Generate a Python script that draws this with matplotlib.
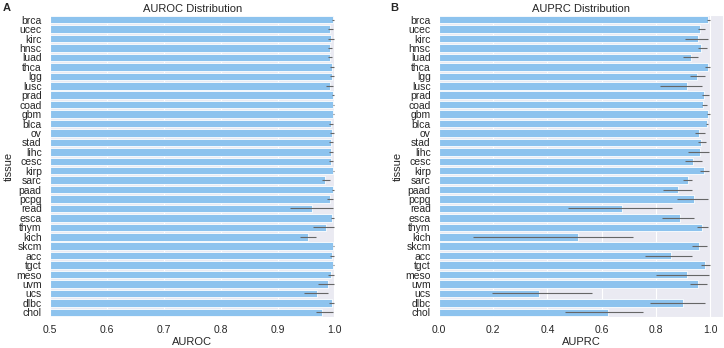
import numpy as np
import matplotlib.pyplot as plt
import seaborn as sns

sns.set_style("darkgrid")
plt.rcParams['font.family'] = ['Liberation Sans', 'DejaVu Sans']

tissues = ["brca", "ucec", "kirc", "hnsc", "luad", "thca", "lgg", "lusc", "prad", "coad",
           "gbm", "blca", "ov", "stad", "lihc", "cesc", "kirp", "sarc", "paad", "pcpg",
           "read", "esca", "thym", "kich", "skcm", "acc", "tgct", "meso", "uvm", "ucs",
           "dlbc", "chol"]

# AUROC mean and error-bar ends
auroc = [0.998, 0.992, 0.994, 0.992, 0.992, 0.995, 0.996, 0.992, 0.997, 0.998,
         0.998, 0.994, 0.995, 0.994, 0.994, 0.994, 0.998, 0.984, 0.997, 0.992,
         0.960, 0.996, 0.985, 0.954, 0.998, 0.996, 0.998, 0.994, 0.989, 0.969,
         0.995, 0.979]
auroc_lo = [0.996, 0.988, 0.989, 0.988, 0.988, 0.992, 0.993, 0.985, 0.995, 0.997,
            0.997, 0.991, 0.992, 0.990, 0.991, 0.990, 0.997, 0.978, 0.995, 0.987,
            0.922, 0.994, 0.963, 0.940, 0.997, 0.993, 0.997, 0.989, 0.971, 0.946,
            0.991, 0.968]
auroc_hi = [1.000, 0.997, 1.000, 0.996, 0.996, 0.999, 1.000, 0.998, 1.000, 1.000,
            1.000, 0.998, 0.999, 0.998, 0.998, 0.998, 1.000, 0.992, 1.000, 0.997,
            0.998, 0.999, 1.000, 0.967, 1.000, 1.000, 1.000, 0.999, 1.000, 0.989,
            1.000, 0.997]

# AUPRC mean and error-bar ends
auprc = [0.994, 0.963, 0.955, 0.966, 0.929, 0.991, 0.953, 0.914, 0.979, 0.975,
         0.994, 0.988, 0.961, 0.966, 0.963, 0.939, 0.979, 0.918, 0.883, 0.942,
         0.674, 0.889, 0.969, 0.514, 0.961, 0.855, 0.982, 0.914, 0.957, 0.369,
         0.899, 0.625]
auprc_lo = [0.988, 0.957, 0.907, 0.957, 0.902, 0.982, 0.926, 0.815, 0.969, 0.969,
            0.988, 0.984, 0.945, 0.954, 0.920, 0.908, 0.963, 0.902, 0.828, 0.877,
            0.477, 0.822, 0.951, 0.127, 0.933, 0.760, 0.966, 0.801, 0.926, 0.194,
            0.779, 0.465]
auprc_hi = [1.000, 0.982, 0.994, 0.988, 0.957, 1.000, 0.982, 0.969, 0.998, 0.988,
            1.000, 0.994, 0.982, 0.985, 0.998, 0.972, 0.998, 0.933, 0.932, 0.994,
            0.859, 0.942, 0.994, 0.717, 0.988, 0.932, 1.000, 0.998, 0.988, 0.563,
            0.982, 0.754]

bar_color = "#8DC3EE"
y = np.arange(len(tissues))

fig = plt.figure(figsize=(7.24, 3.48), dpi=100)
axA = fig.add_axes([50 / 724, 31 / 348, 285 / 724, 302 / 348])
axB = fig.add_axes([439 / 724, 31 / 348, 284 / 724, 302 / 348])


def draw(ax, vals, lo, hi, xlim, ticks, xlabel, title):
    vals = np.array(vals)
    err = np.vstack([vals - np.array(lo), np.array(hi) - vals])
    ax.barh(y, vals, height=0.8, color=bar_color, edgecolor="white", linewidth=0.6, zorder=2)
    ax.errorbar(vals, y, xerr=err, fmt="none", ecolor="0.4", elinewidth=0.8, zorder=3)
    ax.set_ylim(len(tissues) - 0.5, -0.5)
    ax.set_xlim(*xlim)
    ax.set_xticks(ticks)
    ax.set_xticklabels([f"{t:.1f}" for t in ticks])
    ax.set_yticks(y)
    ax.set_yticklabels(tissues)
    ax.tick_params(axis="x", labelsize=7.5, pad=6, length=0)
    ax.tick_params(axis="y", labelsize=7.5, pad=6, length=0)
    ax.set_xlabel(xlabel, fontsize=8, labelpad=1)
    ax.set_ylabel("tissue", fontsize=8, labelpad=2)
    ax.set_title(title, fontsize=8, pad=2)
    ax.grid(axis="y", visible=False)
    ax.grid(axis="x", color="white", linewidth=0.8)


draw(axA, auroc, auroc_lo, auroc_hi, (0.5, 1.001), [0.5, 0.6, 0.7, 0.8, 0.9, 1.0], "AUROC", "AUROC Distribution")
draw(axB, auprc, auprc_lo, auprc_hi, (0.0, 1.048), [0.0, 0.2, 0.4, 0.6, 0.8, 1.0], "AUPRC", "AUPRC Distribution")

fig.text(3 / 724, 1 - 8 / 348, "A", fontsize=8, fontweight="bold", va="center")
fig.text(390 / 724, 1 - 8 / 348, "B", fontsize=8, fontweight="bold", va="center")

fig.savefig("out.png", dpi=100)
